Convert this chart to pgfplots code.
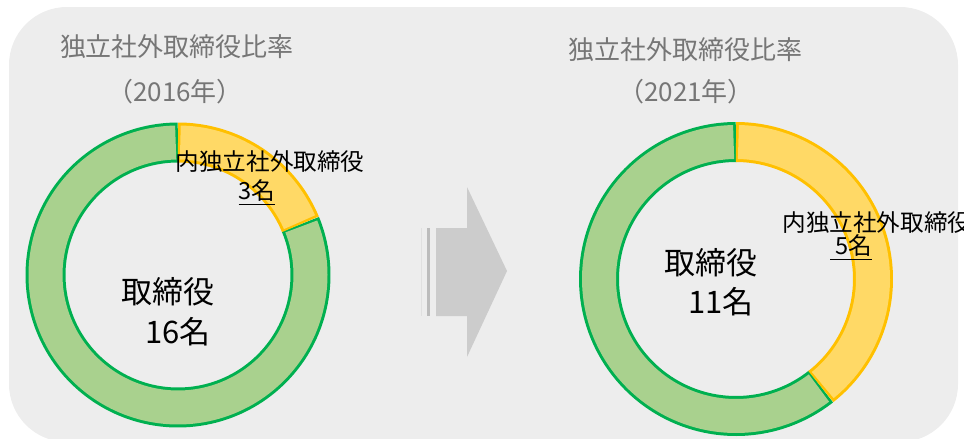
\documentclass[border=0pt]{standalone}
\usepackage{fontspec}
\setmainfont{Noto Sans CJK JP}
\usepackage{pgfplots}
\usepackage{pgfplotstable}
\pgfplotsset{compat=1.18}
\definecolor{gfill}{HTML}{A9D18E}
\definecolor{gline}{HTML}{00B050}
\definecolor{yfill}{HTML}{FFD966}
\definecolor{yline}{HTML}{FFC000}
\definecolor{bgc}{HTML}{EDEDED}
\definecolor{arrowc}{HTML}{CCCCCC}
\definecolor{titlec}{HTML}{767676}

\pgfplotstableread{
part value
indep 3
other 13
}\leftdata
\pgfplotstableread{
part value
indep 5
other 7.7
}\rightdata

\begin{document}%
\pgfplotstablegetelem{0}{value}\of\leftdata\let\La\pgfplotsretval%
\pgfplotstablegetelem{1}{value}\of\leftdata\let\Lb\pgfplotsretval%
\pgfplotstablegetelem{0}{value}\of\rightdata\let\Ra\pgfplotsretval%
\pgfplotstablegetelem{1}{value}\of\rightdata\let\Rb\pgfplotsretval%
\pgfmathsetmacro\Ls{90-360*\La/(\La+\Lb)}%
\pgfmathsetmacro\Rs{90-360*\Ra/(\Ra+\Rb)}%
\pgfmathsetmacro\LsA{\Ls+1}\pgfmathsetmacro\LsB{\Ls-1}%
\pgfmathsetmacro\RsA{\Rs+1}\pgfmathsetmacro\RsB{\Rs-1}%
\begin{tikzpicture}
\useasboundingbox (0,0) rectangle (482pt,219.5pt);
\begin{scope}
\clip (0,0) rectangle (482pt,219.5pt);
\begin{axis}[
  at={(0,0)}, anchor=south west,
  width=482pt, height=219.5pt, scale only axis,
  xmin=0, xmax=964, ymin=0, ymax=439, y dir=reverse,
  hide axis, clip=false,
]
% background
\fill[bgc, rounded corners=29pt] (axis cs:9,7) rectangle (axis cs:958,442);
% arrow
\fill[arrowc] (axis cs:436,228) -- (axis cs:467,228) -- (axis cs:467,187) -- (axis cs:507,271)
  -- (axis cs:467,357) -- (axis cs:467,316) -- (axis cs:436,316) -- cycle;
\fill[arrowc!92!black] (axis cs:427,228) rectangle (axis cs:430,316);
\fill[arrowc!40!bgc] (axis cs:421,228) rectangle (axis cs:422,316);
% left donut
\addplot[draw=gline, line width=20pt, domain=-270:\Ls, samples=150] ({178+132.5*cos(x)},{275-132.5*sin(x)});
\addplot[draw=gfill, line width=17pt, domain=-269:\LsB, samples=150] ({178+132.5*cos(x)},{275-132.5*sin(x)});
\addplot[draw=yline, line width=20pt, domain=\Ls:90, samples=80] ({178+132.5*cos(x)},{275-132.5*sin(x)});
\addplot[draw=yfill, line width=17pt, domain=\LsA:89, samples=80] ({178+132.5*cos(x)},{275-132.5*sin(x)});
% right donut
\addplot[draw=gline, line width=20pt, domain=-270:\Rs, samples=150] ({736+137*cos(x)},{279-137*sin(x)});
\addplot[draw=gfill, line width=17pt, domain=-269:\RsB, samples=150] ({736+137*cos(x)},{279-137*sin(x)});
\addplot[draw=yline, line width=20pt, domain=\Rs:90, samples=120] ({736+137*cos(x)},{279-137*sin(x)});
\addplot[draw=yfill, line width=17pt, domain=\RsA:89, samples=120] ({736+137*cos(x)},{279-137*sin(x)});
% titles
\node[text=titlec, font=\fontsize{13}{15}\selectfont] at (axis cs:177,47) {独立社外取締役比率};
\node[text=titlec, font=\fontsize{13}{15}\selectfont] at (axis cs:175,92) {（2016年）};
\node[text=titlec, font=\fontsize{13}{15}\selectfont] at (axis cs:685,50) {独立社外取締役比率};
\node[text=titlec, font=\fontsize{13}{15}\selectfont] at (axis cs:686,92) {（2021年）};
% left labels
\node[font=\fontsize{11.8}{14}\selectfont] at (axis cs:270,162) {内独立社外取締役};
\node[font=\fontsize{11.8}{14}\selectfont] at (axis cs:257,193) {\underline{3名}};
\node[font=\fontsize{15.5}{18}\selectfont] at (axis cs:168,292) {取締役};
\node[font=\fontsize{15.5}{18}\selectfont] at (axis cs:178,332) {16名};
% right labels
\node[font=\fontsize{15.5}{18}\selectfont] at (axis cs:711,263) {取締役};
\node[font=\fontsize{15.5}{18}\selectfont] at (axis cs:721,302) {11名};
\node[font=\fontsize{11.8}{14}\selectfont, anchor=west, inner sep=0pt] at (axis cs:782,223) {内独立社外取締役};
\node[font=\fontsize{11.8}{14}\selectfont] at (axis cs:851,248) {\underline{\ 5名}};
\end{axis}
\end{scope}
\end{tikzpicture}%
\end{document}
